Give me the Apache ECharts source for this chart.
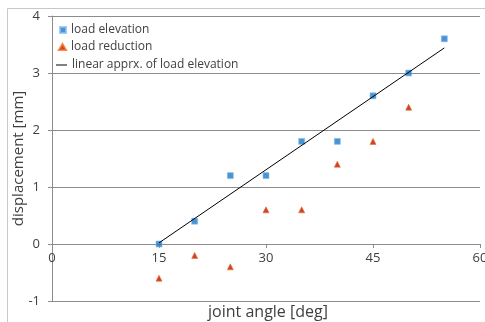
<!DOCTYPE html>
<html>
<head>
<meta charset="utf-8">
<script src="https://cdn.jsdelivr.net/npm/echarts@6/dist/echarts.min.js"></script>
<style>
html,body{margin:0;padding:0;background:#fff;}
#c{width:485px;height:322px;}
</style>
</head>
<body>
<div id="c"></div>
<script>
const elevX = [15, 20, 25, 30, 35, 40, 45, 50, 55];
const elevY = [0, 0.4, 1.2, 1.2, 1.8, 1.8, 2.6, 3.0, 3.6];
const redX = [15, 20, 25, 30, 35, 40, 45, 50];
const redY = [-0.6, -0.2, -0.4, 0.6, 0.6, 1.4, 1.8, 2.4];
const fitX = [15, 55];
const fitY = [0.02, 3.44];
const seriesNames = ['load elevation', 'load reduction', 'linear apprx. of load elevation'];
const xTitle = 'joint angle [deg]';
const yTitle = 'displacement [mm]';

const pairs = (xs, ys) => xs.map((x, i) => [x, ys[i]]);
const FONT = 'Open Sans';
const TXT = '#404040';
const GRID = '#8c8c8c';
const TOP = 16, BOTTOM = 21, H = 322;
const YMIN = -1, YMAX = 4;
const zeroOffset = -(H - TOP - BOTTOM) * (0 - YMIN) / (YMAX - YMIN);
const legText = { fontFamily: FONT, fontSize: 12, color: TXT };

const chart = echarts.init(document.getElementById('c'));
chart.setOption({
  animation: false,
  backgroundColor: '#fff',
  textStyle: { fontFamily: FONT },
  grid: { left: 52, right: 5, top: TOP, bottom: BOTTOM, containLabel: false, outerBoundsMode: 'none' },
  legend: [
    { orient: 'vertical', padding: 0, left: 59, top: 24, itemWidth: 6, itemHeight: 6,
      data: [{ name: seriesNames[0], icon: 'rect' }], textStyle: legText },
    { orient: 'vertical', padding: 0, left: 58, top: 41, itemWidth: 7, itemHeight: 6,
      data: [{ name: seriesNames[1], icon: 'triangle' }], textStyle: legText },
    { orient: 'vertical', padding: 0, left: 56, top: 59, itemWidth: 11, itemHeight: 1,
      data: [{ name: seriesNames[2], icon: 'rect', itemStyle: { color: '#000', borderWidth: 0 } }], textStyle: legText }
  ],
  xAxis: {
    type: 'value', min: 0, max: 60, interval: 15, offset: zeroOffset,
    axisLine: { show: true, onZero: false, lineStyle: { color: GRID, width: 1 } },
    axisTick: { show: true, inside: false, length: 4, lineStyle: { color: GRID } },
    axisLabel: { color: TXT, fontFamily: FONT, fontSize: 13, margin: 8 },
    splitLine: { show: false }
  },
  yAxis: {
    type: 'value', min: YMIN, max: YMAX, interval: 1,
    axisLine: { show: true, onZero: false, lineStyle: { color: GRID, width: 1 } },
    axisTick: { show: true, inside: false, length: 4, lineStyle: { color: GRID } },
    axisLabel: { color: TXT, fontFamily: FONT, fontSize: 13, margin: 12 },
    splitLine: { show: true, lineStyle: { color: GRID, width: 1 } },
    name: yTitle, nameLocation: 'middle', nameGap: 26, nameMoveOverlap: false,
    nameTextStyle: { color: TXT, fontFamily: FONT, fontSize: 15 }
  },
  graphic: [
    { type: 'rect', silent: true, z: -1, shape: { x: 7.5, y: 8.5, width: 600, height: 400 },
      style: { fill: 'none', stroke: '#c8c8c8', lineWidth: 1 } },
    { type: 'text', silent: true, x: 268, y: 312,
      style: { text: xTitle, x: 0, y: 0, align: 'center', verticalAlign: 'middle', fill: TXT, font: '16px "Open Sans"' } }
  ],
  series: [
    { name: seriesNames[0], type: 'scatter', symbol: 'rect', symbolSize: 6, z: 3,
      itemStyle: { color: '#1f78c8', borderColor: '#8cc0ec', borderWidth: 0.8 },
      data: pairs(elevX, elevY) },
    { name: seriesNames[1], type: 'scatter', symbol: 'triangle', symbolSize: 6, z: 3,
      itemStyle: { color: '#b81400', borderColor: '#f07020', borderWidth: 0.8 },
      data: pairs(redX, redY) },
    { name: seriesNames[2], type: 'line', showSymbol: false, symbol: 'none', z: 4,
      lineStyle: { color: '#000', width: 1 }, itemStyle: { color: '#000' },
      data: pairs(fitX, fitY) }
  ]
});
</script>
</body>
</html>
